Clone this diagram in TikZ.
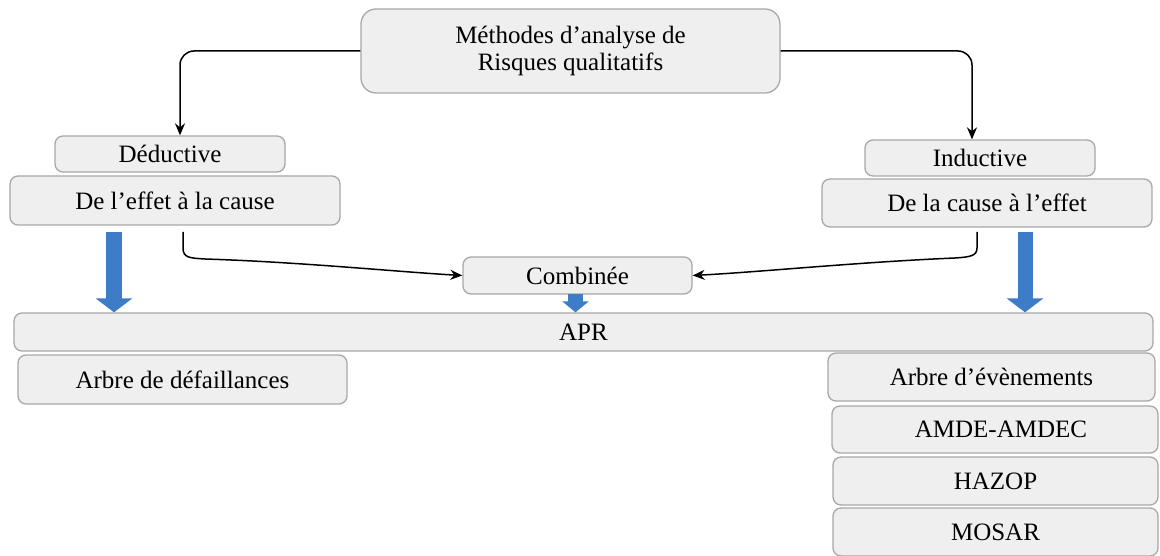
\documentclass[tikz,border=0pt]{standalone}
\usepackage{fontspec}
\setmainfont{Liberation Serif}
\usetikzlibrary{arrows.meta}
\definecolor{boxfill}{HTML}{EFEFEF}
\definecolor{boxline}{HTML}{A8A8A8}
\definecolor{bluearrow}{HTML}{3D7CC7}
\tikzset{
  box/.style={draw=boxline, fill=boxfill, line width=1.3pt, rounded corners=8pt,
    inner sep=0pt, align=center, font=\fontsize{25}{27}\selectfont},
  link/.style={draw=black, line width=1.5pt, -{Stealth[length=12pt,width=10pt]}},
  fat/.style={draw=bluearrow, line width=16pt,
    -{Triangle[length=14pt,width=36pt]}},
}
\newcommand{\boxat}[6]{% name, x1, y1, x2, y2, text
  \node[box, minimum width={#4-#2}, minimum height={#5-#3}] (#1) at ({(#2+#4)/2},{(#3+#5)/2}) {#6};}
\begin{document}
\begin{tikzpicture}[x=1pt,y=-1pt]
\useasboundingbox (0,0) rectangle (1160,556);

% top box
\node[box, rounded corners=15pt, minimum width=419, minimum height=84]
  (top) at (570.5,51) {Méthodes d’analyse de\\Risques qualitatifs};

% method branches
\boxat{ded}{55}{136}{285}{172}{Déductive}
\boxat{eff}{10}{176}{340}{225}{De l’effet à la cause}
\boxat{ind}{865}{140}{1095}{176}{Inductive}
\boxat{cau}{822}{179}{1152}{227}{De la cause à l’effet}
\boxat{comb}{463}{257}{692}{294}{Combinée}

% resulting methods
\boxat{apr}{14}{313}{1153}{351}{APR}
\boxat{adf}{18}{355}{347}{404}{Arbre de défaillances}
\boxat{aev}{828}{353}{1155}{401}{Arbre d’évènements}
\boxat{amde}{832}{406}{1158}{453}{\hspace*{12pt}AMDE-AMDEC}
\boxat{hazop}{833}{457}{1158}{505}{HAZOP}
\boxat{mosar}{833}{508}{1158}{556}{MOSAR}

% split into deductive / inductive
\draw[link, rounded corners=14pt] (top.west) -| ([xshift=10pt]ded.north);
\draw[link, rounded corners=14pt] (top.east) -| ([xshift=-8pt]ind.north);

% both approaches lead to the combined one
\coordinate (e0) at (183,232);
\coordinate (c0) at (977,232);
\draw[link] (e0) -- (183,248) .. controls (183,258) and (190,258) .. (205,259)
  .. controls (300,262) and (400,272) .. (comb.west);
\draw[link] (c0) -- (977,248) .. controls (977,256) and (970,257) .. (955,258)
  .. controls (860,262) and (760,272) .. (comb.east);

% block arrows to APR
\coordinate (b1) at (114,232);
\coordinate (b2) at (575.5,294);
\coordinate (b3) at (1025,232);
\draw[fat] (b1) -- (b1 |- apr.north);
\draw[fat, line width=15pt, -{Triangle[length=11pt,width=26pt]}] (b2) -- (b2 |- apr.north);
\draw[fat, line width=15pt] (b3) -- (b3 |- apr.north);
\end{tikzpicture}
\end{document}
